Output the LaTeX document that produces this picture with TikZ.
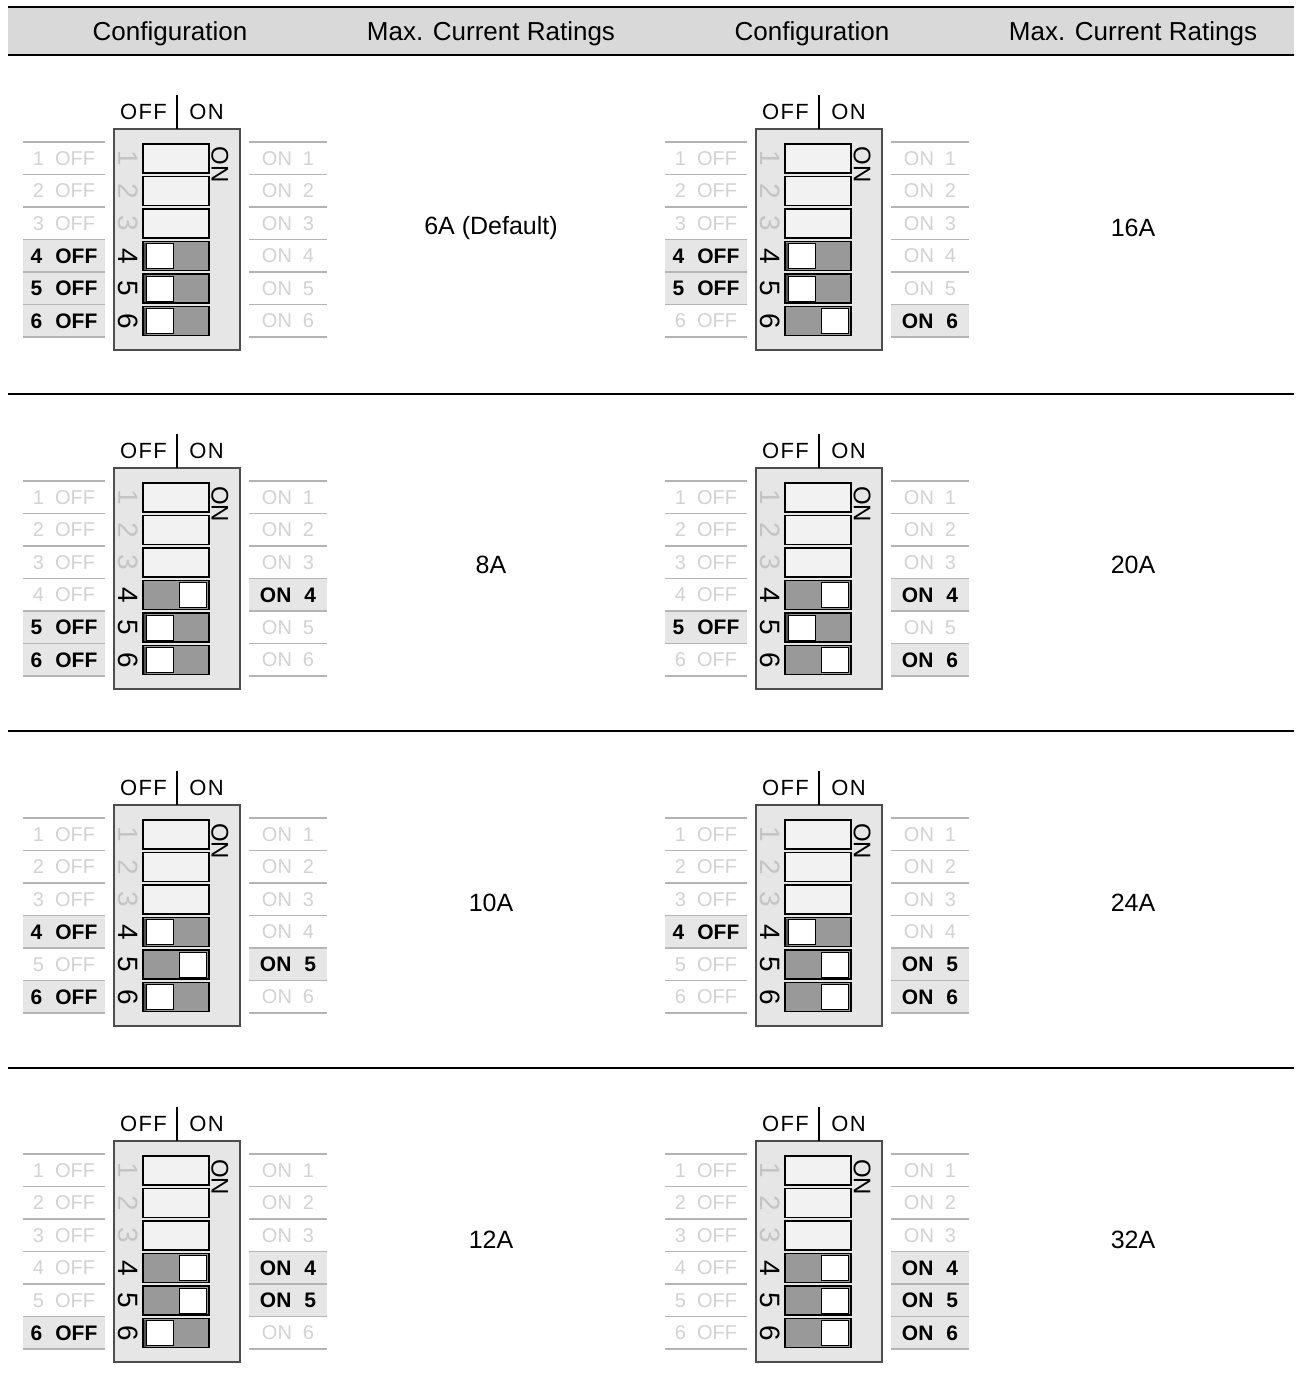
\documentclass[tikz,border=0pt]{standalone}
\usepackage{fontspec}
\setmainfont{Liberation Sans}
\usetikzlibrary{positioning}

\definecolor{bandgray}{HTML}{D9D9D9}
\definecolor{bodygray}{HTML}{E6E6E6}
\definecolor{slotlight}{HTML}{F2F2F2}
\definecolor{slotdark}{HTML}{999999}
\definecolor{knobshade}{HTML}{555555}
\definecolor{fadetext}{HTML}{D2D2D2}
\definecolor{fadedigit}{HTML}{C4C4C4}
\definecolor{rulegray}{HTML}{B4B4B4}
\definecolor{bodyline}{HTML}{4D4D4D}

% one DIP switch block: name, x, y, states of switch 1..6 (2 = unset, 0 = off, 1 = on)
\newcommand{\dipblock}[4]{%
  \begin{scope}[shift={(#2,#3)}]
    \node[dipbody] (#1-body) at (63,110.5) {};
    \coordinate (#1-tick) at (63,-34);
    \draw[line width=1.6] (#1-tick) -- (#1-body.north);
    \node[diptop] (#1-off) at (29.5,-17) {OFF};
    \node[diptop] (#1-on) at (92.5,-17) {ON};
    \node[dipmark] (#1-mark) at (106,36) {ON};
    \foreach \st [count=\k] in {#4} {
      \pgfmathsetmacro\yc{29.5+(\k-1)*32.5}
      \ifnum\k<4 \def\dstyle{digidle}\else\def\dstyle{digset}\fi
      \node[\dstyle] (#1-dig\k) at (14,\yc) {\k};
      \ifnum\st=2
        \node[slotidle] (#1-slot\k) at (62,\yc) {};
      \else
        \node[slotset] (#1-slot\k) at (62,\yc) {};
        \ifnum\st=0
          \fill[knobshade] (30,\yc-13.5) rectangle (32.5,\yc+13.5);
          \node[knob] (#1-knob\k) at (45.5,\yc) {};
        \else
          \node[knob] (#1-knob\k) at (78.5,\yc) {};
        \fi
      \fi
      \ifnum\st=0
        \node[lblset,minimum width=82] (#1-left\k) at (-50,\yc) {\k\hspace{13pt}OFF};
      \else
        \node[lblfade] (#1-left\k) at (-50,\yc) {\k\hspace{11pt}OFF};
      \fi
      \ifnum\st=1
        \node[lblset,minimum width=78] (#1-right\k) at (174,\yc) {ON\hspace{13pt}\k};
      \else
        \node[lblfade] (#1-right\k) at (174,\yc) {ON\hspace{11pt}\k};
      \fi
    }
    \foreach \j in {0,...,6} {
      \draw[cellrule] (-91,13+\j*32.5) -- (-9,13+\j*32.5);
      \draw[cellrule] (135,13+\j*32.5) -- (213,13+\j*32.5);
    }
  \end{scope}}

\begin{document}
\begin{tikzpicture}[
        x=1pt,y=-1pt,
        hdtext/.style={font=\fontsize{26}{26}\selectfont},
        rating/.style={font=\fontsize{25}{25}\selectfont},
        tablerule/.style={line width=2.2},
        dipbody/.style={draw=bodyline,fill=bodygray,line width=1.2,minimum width=126,minimum height=221,inner sep=0,outer sep=0},
        diptop/.style={font=\fontsize{22}{22}\selectfont\addfontfeature{LetterSpace=6},inner sep=0},
        dipmark/.style={font=\fontsize{24}{24}\selectfont,rotate=-90,inner sep=0},
        digidle/.style={font=\fontsize{28}{28}\selectfont,rotate=-90,text=fadedigit,inner sep=0},
        digset/.style={font=\fontsize{28}{28}\selectfont,rotate=-90,inner sep=0},
        slotidle/.style={draw=black,fill=slotlight,line width=1.2,minimum width=66,minimum height=29,inner sep=0},
        slotset/.style={draw=black,fill=slotdark,line width=1.2,minimum width=66,minimum height=29,inner sep=0},
        knob/.style={draw=black,fill=white,line width=1,minimum width=27,minimum height=25,inner sep=0},
        lblfade/.style={font=\fontsize{20}{20}\selectfont,text=fadetext,inner sep=0},
        lblset/.style={font=\fontsize{21}{21}\selectfont\bfseries,fill=bodygray,minimum height=32.5,inner sep=0},
        cellrule/.style={draw=rulegray,line width=1.6}
    ]
    \useasboundingbox (0,0) rectangle (1298,1399);
    % header
    \fill[bandgray] (8,8) rectangle (1294,55);
    \draw[tablerule] (8,7) -- (1294,7);
    \draw[tablerule] (8,55) -- (1294,55);
    \node[hdtext] (hd1) at (170,34) {Configuration};
    \node[hdtext] (hd2) at (491,34) {Max. Current Ratings};
    \node[hdtext] (hd3) at (812,34) {Configuration};
    \node[hdtext] (hd4) at (1133,34) {Max. Current Ratings};
    % row rules
    \draw[tablerule] (8,394) -- (1294,394);
    \draw[tablerule] (8,731) -- (1294,731);
    \draw[tablerule] (8,1068) -- (1294,1068);
    % switches
    \dipblock{a}{114}{129}{2,2,2,0,0,0}
    \dipblock{b}{114}{468}{2,2,2,1,0,0}
    \dipblock{c}{114}{805}{2,2,2,0,1,0}
    \dipblock{d}{114}{1141}{2,2,2,1,1,0}
    \dipblock{e}{756}{129}{2,2,2,0,0,1}
    \dipblock{f}{756}{468}{2,2,2,1,0,1}
    \dipblock{g}{756}{805}{2,2,2,0,1,1}
    \dipblock{h}{756}{1141}{2,2,2,1,1,1}
    % ratings
    \node[rating] (ra) at (491,228) {6A (Default)};
    \node[rating] (rb) at (491,565) {8A};
    \node[rating] (rc) at (491,903) {10A};
    \node[rating] (rd) at (491,1240) {12A};
    \node[rating] (re) at (1133,228) {16A};
    \node[rating] (rf) at (1133,565) {20A};
    \node[rating] (rg) at (1133,903) {24A};
    \node[rating] (rh) at (1133,1240) {32A};
\end{tikzpicture}
\end{document}
